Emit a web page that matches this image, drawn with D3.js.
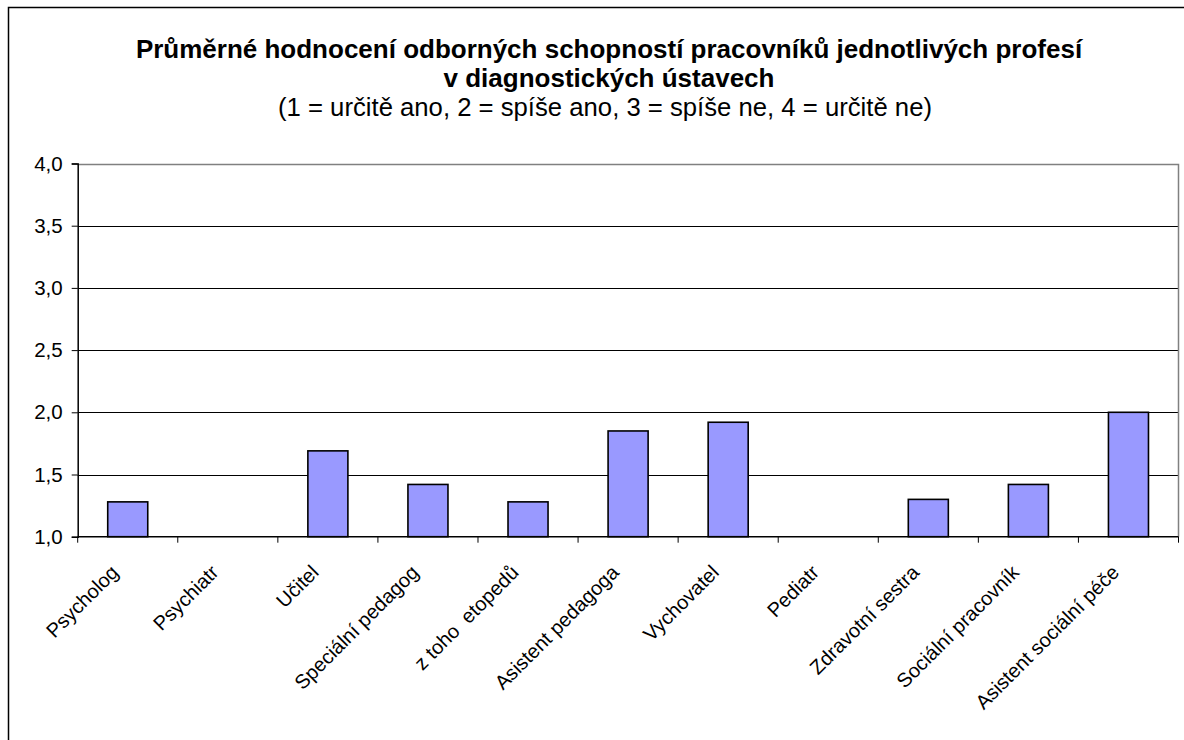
<!DOCTYPE html>
<html><head><meta charset="utf-8">
<script src="https://cdn.jsdelivr.net/npm/d3@7"></script>
<style>
body{margin:0;background:#fff;}
text{font-family:"Liberation Sans",Arial,sans-serif;fill:#000;}
</style></head>
<body><svg id="chart" width="1184" height="740"></svg>
<script>
const categories = ["Psycholog","Psychiatr","Učitel","Speciální pedagog","z toho  etopedů","Asistent pedagoga","Vychovatel","Pediatr","Zdravotní sestra","Sociální pracovník","Asistent sociální péče"];
const values = [1.28, null, 1.69, 1.42, 1.28, 1.85, 1.92, null, 1.30, 1.42, 2.0];
const yTicks = [1.0, 1.5, 2.0, 2.5, 3.0, 3.5, 4.0];
const titleLines = ["Průměrné hodnocení odborných schopností pracovníků jednotlivých profesí","v diagnostických ústavech"];
const subtitle = "(1 = určitě ano, 2 = spíše ano, 3 = spíše ne, 4 = určitě ne)";

const svg = d3.select("#chart");
const L = 77.7, R = 1178.5, T = 163.5, B = 536.7;

svg.append("rect").attr("x",0).attr("y",0).attr("width",1184).attr("height",740).attr("fill","#fff");
// outer chart frame
svg.append("path").attr("d","M8.5,740 V7.5 H1190").attr("fill","none").attr("stroke","#000").attr("stroke-width",1.5);

const x = d3.scaleBand().domain(categories).range([L,R]).paddingInner(0.6).paddingOuter(0.3);
const xb = d3.scaleBand().domain(categories).range([L,R]);
const y = d3.scaleLinear().domain([1,4]).range([B,T]);

// gridlines
svg.append("g").selectAll("line").data(yTicks.filter(d=>d>1 && d<4)).join("line")
  .attr("x1",L).attr("x2",R).attr("y1",d=>Math.round(y(d))+0.5).attr("y2",d=>Math.round(y(d))+0.5)
  .attr("stroke","#000").attr("stroke-width",1);
// plot border top/right grey
svg.append("path").attr("d",`M${L},${Math.round(T)+0.5} H${R} V${B}`).attr("fill","none").attr("stroke","#808080").attr("stroke-width",1.5);

// bars
svg.append("g").selectAll("rect").data(categories.map((c,i)=>({c,v:values[i]})).filter(d=>d.v!=null)).join("rect")
  .attr("x",d=>x(d.c)).attr("width",x.bandwidth())
  .attr("y",d=>y(d.v)).attr("height",d=>y(1)-y(d.v))
  .attr("fill","#9999FF").attr("stroke","#000").attr("stroke-width",1.6);

// y axis
const yAxis = d3.axisLeft(y).tickValues(yTicks).tickSize(6).tickPadding(9)
  .tickFormat(d=>d3.format(".1f")(d).replace(".",","));
const gy = svg.append("g").attr("transform",`translate(${L},0)`).call(yAxis);
gy.select(".domain").attr("stroke","#000").attr("stroke-width",1.5);
gy.selectAll(".tick line").attr("stroke","#000");
gy.selectAll("text").attr("font-size",20.5).attr("font-family","Liberation Sans, Arial, sans-serif").attr("fill","#000");

// x axis
const gx = svg.append("g").attr("transform",`translate(0,${B})`);
gx.append("line").attr("x1",L).attr("x2",R).attr("y1",0).attr("y2",0).attr("stroke","#000").attr("stroke-width",1.5);
gx.selectAll("line.tk").data(categories.concat(["__end"])).join("line").attr("class","tk")
  .attr("x1",(d,i)=> i<categories.length ? xb(d) : R).attr("x2",(d,i)=> i<categories.length ? xb(d) : R)
  .attr("y1",0).attr("y2",6).attr("stroke","#000").attr("stroke-width",1);
gx.selectAll("text").data(categories).join("text")
  .attr("transform",d=>`translate(${xb(d)+xb.bandwidth()/2-13},${32}) rotate(-45)`)
  .attr("text-anchor","end").attr("font-size",20).attr("dy","0.35em")
  .style("white-space","pre").text(d=>d);

// titles
svg.append("g").selectAll("text").data(titleLines).join("text")
  .attr("x",609).attr("y",(d,i)=>57.5+i*29).attr("text-anchor","middle")
  .attr("font-size",26).attr("font-weight","bold").text(d=>d);
svg.append("text").attr("x",605).attr("y",115.5).attr("text-anchor","middle").attr("font-size",25.7).text(subtitle);
</script></body></html>
